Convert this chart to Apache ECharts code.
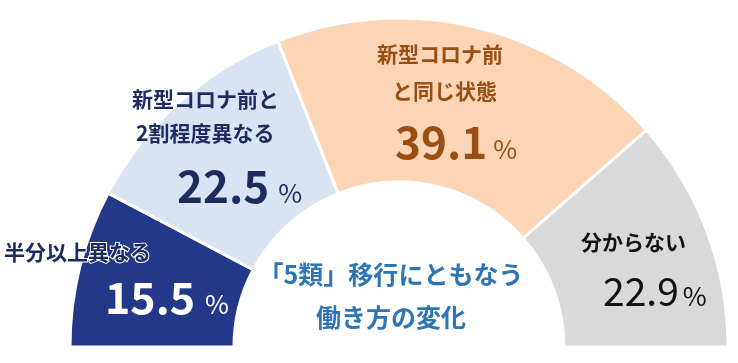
<!DOCTYPE html>
<html><head><meta charset="utf-8">
<script src="https://cdn.jsdelivr.net/npm/echarts@6/dist/echarts.min.js"></script>
<style>html,body{margin:0;padding:0;background:#fff}#c{width:738px;height:363px}</style>
</head><body><div id="c"></div>
<script>
// ---- data ----
const categories = ['半分以上異なる', '新型コロナ前と\n2割程度異なる', '新型コロナ前\nと同じ状態', '分からない'];
const values = [15.5, 22.5, 39.1, 22.9];
const unit = '%';
const centerTitle = ['「5類」移行にともなう', '働き方の変化'];

// ---- styles / layout ----
const FONT = '"Noto Sans CJK JP", "Noto Sans", sans-serif';
const sliceColors = ['#24388A', '#DAE3F2', '#FBD5B5', '#D9D9D9'];
const nameColors = ['#1C2C5E', '#1C2C5E', '#9A4F12', '#111111'];
const valueColors = ['#FFFFFF', '#1C2C5E', '#9A4F12', '#111111'];
const valueSizes = [43, 44, 44, 39];
const valueWeights = ['bold', 'bold', 'bold', 'normal'];
const pctSize = 26;
const labelBox = [[4, 235], [132, 82], [377, 36], [581, 225]];
const lineIndent = [[0, 101], [0, 4, 45], [0, 15, 18], [0, 22]];
const nameLH = [34, 34, 37, 34];
const valLH = [58, 72, 64, 64];
const pctGap = [10, 9, 6, 4];

function buildLabel(i) {
  const lines = categories[i].split('\n');
  const rich = {};
  const parts = lines.map((ln, j) => {
    rich['n' + j] = {
      fontFamily: FONT, fontSize: 21, fontWeight: 'bold', color: nameColors[i],
      lineHeight: nameLH[i], padding: [0, 0, 0, lineIndent[i][j]],
      textBorderColor: i === 0 ? '#ffffff' : 'transparent', textBorderWidth: i === 0 ? 2 : 0
    };
    return '{n' + j + '|' + ln + '}';
  });
  const L = valLH[i], vs = valueSizes[i];
  const pad = Math.round(0.76 * (vs - pctSize));
  rich.v = {
    fontFamily: FONT, fontSize: vs, fontWeight: valueWeights[i], color: valueColors[i],
    lineHeight: L, padding: [0, 0, 0, lineIndent[i][lines.length]], verticalAlign: 'middle'
  };
  rich.p = {
    fontFamily: FONT, fontSize: pctSize, fontWeight: 'normal', color: valueColors[i],
    lineHeight: L - pad, padding: [pad, 0, 0, pctGap[i]], verticalAlign: 'middle'
  };
  parts.push('{v|' + values[i] + '}{p|' + unit + '}');
  return { show: true, position: 'inside', formatter: parts.join('\n'), rich: rich };
}

const chart = echarts.init(document.getElementById('c'), null, { renderer: 'canvas' });
chart.setOption({
  backgroundColor: '#ffffff',
  animation: false,
  graphic: [{
    type: 'text', x: 391, y: 253, silent: true,
    style: {
      text: centerTitle.join('\n'), align: 'center', verticalAlign: 'top',
      fontFamily: FONT, fontSize: 25, fontWeight: 'bold', lineHeight: 43, fill: '#2E75B6'
    }
  }],
  series: [{
    type: 'pie',
    center: [399, 347],
    radius: [165, 329],
    startAngle: 180,
    endAngle: 0,
    clockwise: true,
    avoidLabelOverlap: false,
    emphasis: { disabled: true },
    labelLine: { show: false },
    itemStyle: { borderColor: '#ffffff', borderWidth: 3 },
    labelLayout: function (p) {
      const b = labelBox[p.dataIndex];
      return { x: b[0], y: b[1], align: 'left', verticalAlign: 'top' };
    },
    data: values.map((v, i) => ({
      name: categories[i], value: v,
      itemStyle: { color: sliceColors[i] },
      label: buildLabel(i)
    }))
  }]
});
</script></body></html>
